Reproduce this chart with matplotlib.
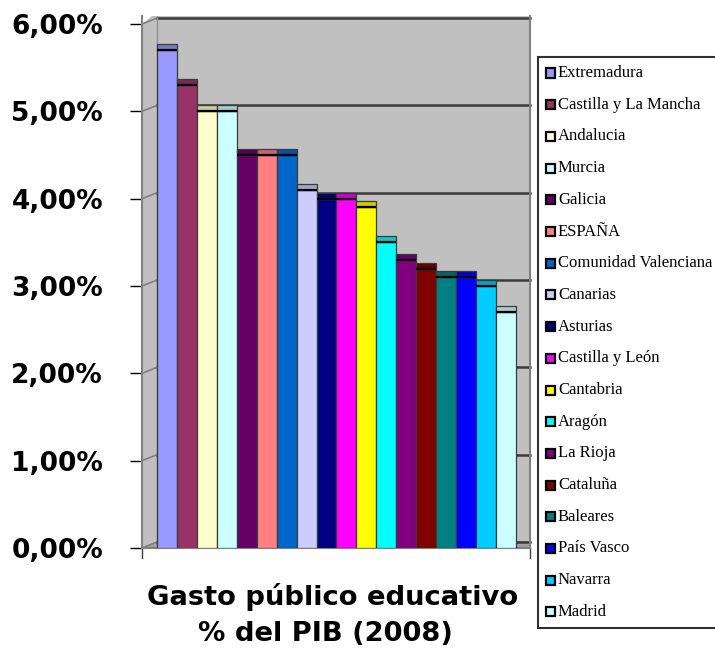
import matplotlib
matplotlib.use('Agg')
import matplotlib.pyplot as plt
from matplotlib.patches import Rectangle, Polygon
import matplotlib.colors as mcolors

regions = ['Extremadura', 'Castilla y La Mancha', 'Andalucia', 'Murcia', 'Galicia',
           'ESPAÑA', 'Comunidad Valenciana', 'Canarias', 'Asturias', 'Castilla y León',
           'Cantabria', 'Aragón', 'La Rioja', 'Cataluña', 'Baleares', 'País Vasco',
           'Navarra', 'Madrid']
values = [5.7, 5.3, 5.0, 5.0, 4.5, 4.5, 4.5, 4.1, 4.0, 4.0, 3.9, 3.5, 3.3, 3.2,
          3.1, 3.1, 3.0, 2.7]
colors = ['#9999FF', '#993366', '#FFFFCC', '#CCFFFF', '#660066', '#FF8080',
          '#0066CC', '#CCCCFF', '#000080', '#FF00FF', '#FFFF00', '#00FFFF',
          '#800080', '#800000', '#008080', '#0000FF', '#00CCFF', '#CCFFFF']
tick_values = [0, 1, 2, 3, 4, 5, 6]
tick_labels = ['0,00%', '1,00%', '2,00%', '3,00%', '4,00%', '5,00%', '6,00%']
title_lines = ['Gasto público educativo', '% del PIB (2008)']

W, H = 715, 652
fig = plt.figure(figsize=(W / 100, H / 100), dpi=100)
fig.patch.set_facecolor('white')

px_left, px_right = 142, 530
px_zero, px_top = 548, 16
unit_px = 87.33
bar_px = 19.95
ytop = (px_zero - px_top) / unit_px
x0 = -15 / bar_px
x1 = len(values) + 14 / bar_px
off = 6 / unit_px  # 3D depth offset (vertical)

ax = fig.add_axes([px_left / W, 1 - px_zero / H, (px_right - px_left) / W,
                   (px_zero - px_top) / H])
ax.set_xlim(x0, x1)
ax.set_ylim(0, ytop)
ax.set_facecolor('#C0C0C0')

# area above slanted side-wall top
ax.add_patch(Polygon([(x0, 6), (x0, ytop + 0.05), (0, ytop + 0.05)], closed=True,
                     facecolor='white', edgecolor='none', zorder=1, clip_on=False))
# floor strip
ax.add_patch(Polygon([(x0, 0), (0, off), (x1, off), (x1, 0)], closed=True,
                     facecolor='#A0A0A0', edgecolor='#808080', lw=0.8, zorder=1))

# back-wall gridlines and side-wall gridlines
for t in tick_values:
    ax.plot([0, x1], [t + off, t + off], color='#3a3a3a', lw=1.8, zorder=1.5,
            clip_on=False)
    ax.plot([x0, 0], [t, t + off], color='#808080', lw=1.2, zorder=1.5,
            clip_on=False)
# side wall inner edge
ax.plot([0, 0], [off, ytop], color='#909090', lw=1.0, zorder=1.5)

# bars with top faces
for i, (v, c) in enumerate(zip(values, colors)):
    ax.bar(i, v, width=1, align='edge', color=c, edgecolor='#3a3a3a', lw=0.9,
           zorder=3)
    rgb = mcolors.to_rgb(c)
    cap = tuple(ch * 0.8 for ch in rgb)
    ax.bar(i, off, bottom=v, width=1, align='edge', color=cap,
           edgecolor='#3a3a3a', lw=0.9, zorder=3)
    ax.plot([i, i + 1], [v, v], color='black', lw=1.6, zorder=4,
            solid_capstyle='butt')

for side in ['top']:
    ax.spines[side].set_visible(False)
for side in ['left', 'bottom', 'right']:
    ax.spines[side].set_color('#808080')
    ax.spines[side].set_linewidth(1.5)

ax.set_xticks([])
ax.set_yticks(tick_values)
ax.set_yticklabels(tick_labels, fontsize=19, fontweight='bold',
                   family='DejaVu Sans')
ax.tick_params(axis='y', direction='out', length=9, width=1, color='black',
               pad=19)
# category ticks at bottom ends
for xx in (x0, x1):
    ax.plot([xx, xx], [0, -10 / unit_px], color='#404040', lw=1, clip_on=False)

# title
fig.text(333 / W, 1 - 597 / H, title_lines[0], ha='center', va='center',
         fontsize=19.7, fontweight='bold', family='DejaVu Sans')
fig.text(325 / W, 1 - 634 / H, title_lines[1], ha='center', va='center',
         fontsize=19.7, fontweight='bold', family='DejaVu Sans')

# legend box
fig.patches.append(Rectangle((538 / W, 1 - 628 / H), 200 / W, 571 / H,
                             transform=fig.transFigure, facecolor='white',
                             edgecolor='#303030', lw=1.5))
row0, step = 73, 31.7
for k, (name, c) in enumerate(zip(regions, colors)):
    yc = row0 + k * step
    fig.patches.append(Rectangle((546 / W, 1 - (yc + 4.5) / H), 9 / W, 9 / H,
                                 transform=fig.transFigure, facecolor=c,
                                 edgecolor='black', lw=1.6))
    fig.text(558 / W, 1 - yc / H, name, ha='left', va='center', fontsize=12,
             family='Liberation Serif')

fig.savefig('out.png', dpi=100)
